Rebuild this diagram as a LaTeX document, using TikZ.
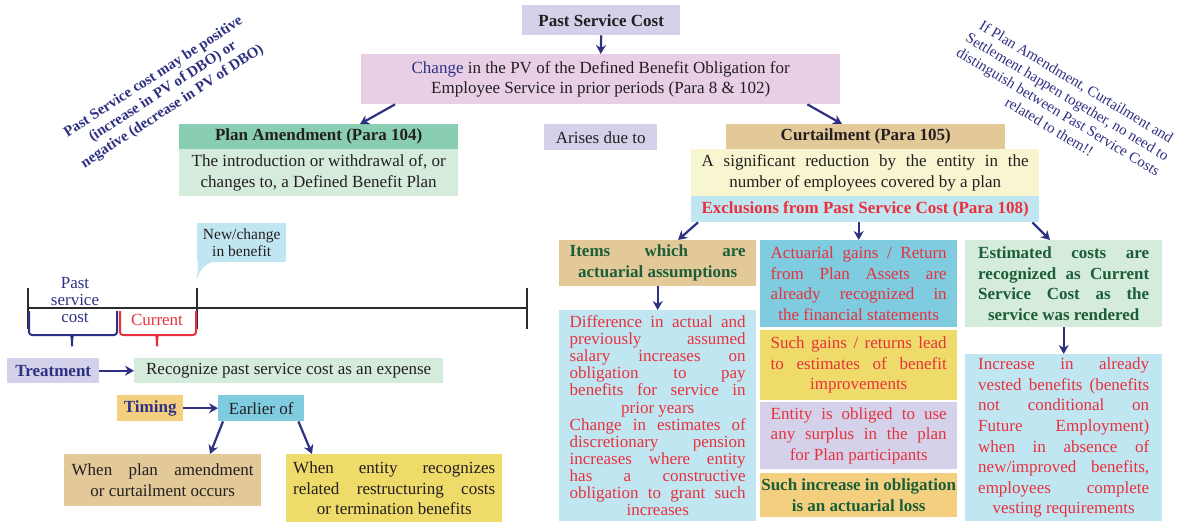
\documentclass[tikz,border=0pt]{standalone}
\usepackage{fontspec}
\setmainfont{Liberation Serif}
\usetikzlibrary{arrows.meta}

\definecolor{lav}{HTML}{D3D2EA}
\definecolor{pinkbg}{HTML}{E9CFE6}
\definecolor{tealhd}{HTML}{89CEB2}
\definecolor{mint}{HTML}{D5EBDB}
\definecolor{tan}{HTML}{E3C998}
\definecolor{cream}{HTML}{F8F6D1}
\definecolor{sky}{HTML}{C0E6F2}
\definecolor{cyanbg}{HTML}{7FCBE0}
\definecolor{yel}{HTML}{EEDB6A}
\definecolor{orng}{HTML}{F4CF80}
\definecolor{navy}{HTML}{2E3182}
\definecolor{redtx}{HTML}{E8313C}
\definecolor{grn}{HTML}{1B5E37}
\definecolor{ink}{HTML}{231F20}
\definecolor{tline}{HTML}{2B2B2B}

\newcommand{\fsz}{\fontsize{17}{20.6}\selectfont}
\newcommand{\jcpar}{\parindent=0pt\spaceskip=0.25em plus 2em minus 0.08em\xspaceskip=\spaceskip
  \leftskip=0pt plus 1fil\rightskip=0pt plus -1fil\parfillskip=0pt plus 2fil\tolerance=10000\hyphenpenalty=10000\relax}

\begin{document}
\begin{tikzpicture}[x=1pt, y=-1pt,
  box/.style={anchor=north west, inner sep=0pt, font=\fsz, text=ink, align=center},
  jbox/.style={anchor=north west, inner sep=0pt, font=\fsz, text=ink},
  arr/.style={draw=navy, line width=2.2pt, -{Stealth[length=9pt, width=10pt]}}]
  \useasboundingbox (0,0) rectangle (1183,523);

  % 1. top: definition
  \node[box, fill=lav, minimum width=158pt, minimum height=30pt, font=\fsz\bfseries] (psc) at (522,5) {Past Service Cost};
  \node[box, fill=pinkbg, minimum width=479pt, minimum height=50pt] (change) at (361,54)
    {{\color{navy}Change} in the PV of the Defined Benefit Obligation for\\ Employee Service in prior periods (Para 8 \& 102)};

  % 2. plan amendment / curtailment
  \node[box, fill=tealhd, minimum width=279pt, minimum height=25pt, font=\fsz\bfseries] (planhd) at (179,124) {Plan Amendment (Para 104)};
  \node[box, fill=mint, minimum width=279pt, minimum height=47pt] (planbd) at (179,149)
    {The introduction or withdrawal of, or\\ changes to, a Defined Benefit Plan};
  \node[box, fill=lav, minimum width=113pt, minimum height=26pt] (arises) at (544,124) {Arises due to};
  \node[box, fill=tan, minimum width=279pt, minimum height=25pt, font=\fsz\bfseries] (curthd) at (726,124) {Curtailment (Para 105)};
  \node[jbox, fill=cream, minimum width=348pt, minimum height=47pt, text width=327pt] (curtbd) at (691,149)
    {\jcpar A significant reduction by the entity in the\linebreak number of employees covered by a plan\par};
  \node[box, fill=sky, minimum width=348pt, minimum height=26pt, font=\fsz\bfseries, text=redtx] (excl) at (691,196)
    {Exclusions from Past Service Cost (Para 108)};

  % 3. exclusions
  \node[jbox, fill=tan, minimum width=197pt, minimum height=46pt, text width=176pt, font=\fsz\bfseries, text=grn] (items) at (559,240)
    {\jcpar Items which are\linebreak actuarial assumptions\par};
  \node[jbox, fill=sky, minimum width=197pt, minimum height=211pt, text width=176pt, font=\fontsize{17}{17.1}\selectfont, text=redtx] (diff) at (559,310)
    {\jcpar Difference in actual and\linebreak previously assumed\linebreak salary increases on\linebreak obligation to pay\linebreak benefits for service in\linebreak prior years\par
     Change in estimates of\linebreak discretionary pension\linebreak increases where entity\linebreak has a constructive\linebreak obligation to grant such\linebreak increases\par};
  \node[jbox, fill=cyanbg, minimum width=197pt, minimum height=87pt, text width=176pt, text=redtx] (gains) at (760,240)
    {\jcpar Actuarial gains / Return\linebreak from Plan Assets are\linebreak already recognized in\linebreak the financial statements\par};
  \node[jbox, fill=yel, minimum width=197pt, minimum height=70pt, text width=176pt, text=redtx] (such) at (760,330)
    {\jcpar Such gains / returns lead\linebreak to estimates of benefit\linebreak improvements\par};
  \node[jbox, fill=lav, minimum width=197pt, minimum height=67pt, text width=176pt, text=redtx] (entity) at (760,402)
    {\jcpar Entity is obliged to use\linebreak any surplus in the plan\linebreak for Plan participants\par};
  \node[box, fill=orng, minimum width=197pt, minimum height=44pt, font=\fsz\bfseries, text=grn] (loss) at (760,473)
    {Such increase in obligation\\ is an actuarial loss};
  \node[jbox, fill=mint, minimum width=197pt, minimum height=87pt, text width=171pt, font=\fsz\bfseries, text=grn] (est) at (965,240)
    {\jcpar Estimated costs are\linebreak recognized as Current\linebreak Service Cost as the\linebreak service was rendered\par};
  \node[jbox, fill=sky, minimum width=197pt, minimum height=167pt, text width=171pt, text=redtx] (incr) at (965,354)
    {\jcpar Increase in already\linebreak vested benefits (benefits\linebreak not conditional on\linebreak Future Employment)\linebreak when in absence of\linebreak new/improved benefits,\linebreak employees complete\linebreak vesting requirements\par};

  % 4. side notes
  \node[font=\fontsize{15}{17.5}\selectfont\bfseries, text=navy, align=center, rotate=33] (note1) at (163,92)
    {Past Service cost may be positive\\ (increase in PV of DBO) or\\ negative (decrease in PV of DBO)};
  \node[font=\fontsize{15}{17.5}\selectfont, text=navy, align=center, rotate=-31] (note2) at (1063,104)
    {If Plan Amendment, Curtailment and\\ Settlement happen together, no need to\\ distinguish between Past Service Costs\\ related to them!!};

  % 5. timeline
  \coordinate (T0) at (28,308);
  \coordinate (T1) at (197,308);
  \coordinate (T2) at (527,308);
  \draw[line width=2.5pt, tline] (T0) -- (T2);
  \foreach \t in {T0,T1,T2}
    \draw[line width=2.5pt, tline] ([yshift=20pt]\t) -- ([yshift=-21pt]\t);
  \node[box, fill=sky, minimum width=89pt, minimum height=39pt, font=\fontsize{15.5}{17.3}\selectfont] (newb) at (197,223) {New/change\\ in benefit};
  \fill[sky] (198,262) .. controls (198,271) .. (197,279) .. controls (200,270) and (204,265) .. (212,262) -- cycle;

  % braces
  \draw[navy, line width=2pt, rounded corners=3pt] (29,311) -- (29,335) -- (68,335)
    .. controls (71,335) and (72,338) .. (72,348) .. controls (72,338) and (73,335) .. (76,335) -- (117,335) -- (117,311);
  \draw[redtx, line width=2pt, rounded corners=3pt] (120,311) -- (120,335) -- (153,335)
    .. controls (156,335) and (157,338) .. (157,348) .. controls (157,338) and (158,335) .. (161,335) -- (196,335) -- (196,311);
  \node[font=\fontsize{17}{17}\selectfont, text=navy, align=center] (pastlbl) at (75,300) {Past\\ service\\ cost};
  \node[font=\fsz, text=redtx] (curlbl) at (157,320) {Current};

  % 6. treatment / timing
  \node[box, fill=lav, minimum width=92pt, minimum height=25pt, font=\fsz\bfseries, text=navy] (treat) at (7,358) {Treatment};
  \node[box, fill=mint, minimum width=309pt, minimum height=25pt] (recog) at (134,358) {Recognize past service cost as an expense};
  \node[box, fill=orng, minimum width=66pt, minimum height=26pt, font=\fsz\bfseries, text=navy] (timing) at (117,395) {Timing};
  \node[box, fill=cyanbg, minimum width=86pt, minimum height=26pt] (earlier) at (218,395) {Earlier of};
  \node[jbox, fill=tan, minimum width=197pt, minimum height=52pt, text width=182pt] (whenplan) at (64,454)
    {\jcpar When plan amendment\linebreak or curtailment occurs\par};
  \node[jbox, fill=yel, minimum width=216pt, minimum height=68pt, text width=202pt] (whenent) at (286,454)
    {\jcpar When entity recognizes\linebreak related restructuring costs\linebreak or termination benefits\par};

  % 7. arrows
  \draw[arr] (psc.south) -- (change.north);
  \draw[arr] ([xshift=34pt]change.south west) -- ([xshift=181pt]planhd.north west);
  \draw[arr] ([xshift=-33pt]change.south east) -- ([xshift=116pt]curthd.north west);
  \draw[arr] ([xshift=7pt]excl.south west) -- ([xshift=119pt]items.north west);
  \draw[arr] (gains.north |- excl.south) -- (gains.north);
  \draw[arr] ([xshift=-7pt]excl.south east) -- ([xshift=85pt]est.north west);
  \draw[arr] (items.south) -- (diff.north);
  \draw[arr] (est.south) -- (incr.north);
  \draw[arr] (treat.east) -- (recog.west);
  \draw[arr] (timing.east) -- (earlier.west);
  \draw[arr] ([xshift=5pt]earlier.south west) -- ([xshift=146pt]whenplan.north west);
  \draw[arr] ([xshift=-6pt]earlier.south east) -- ([xshift=26pt]whenent.north west);

\end{tikzpicture}
\end{document}
